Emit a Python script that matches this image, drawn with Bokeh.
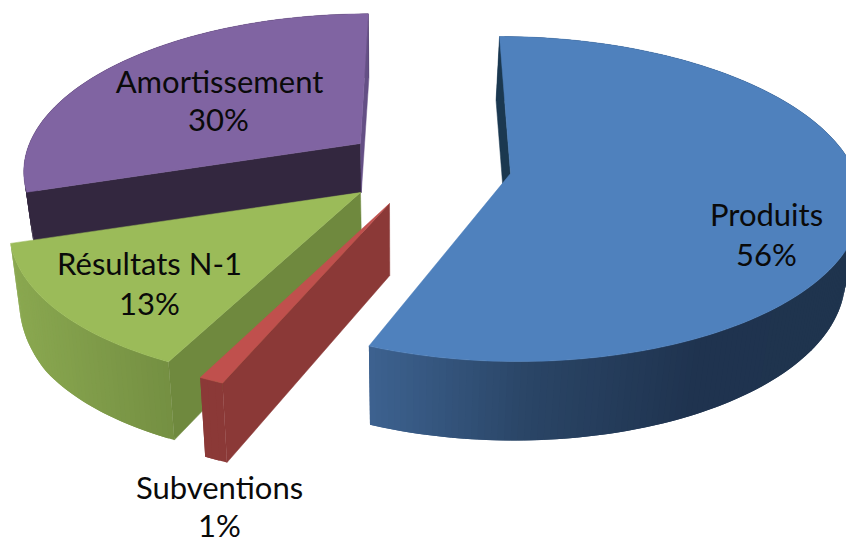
import numpy as np
from bokeh.plotting import figure
from bokeh.models import Range1d
from bokeh.core.properties import value
from bokeh.embed import file_html
from bokeh.resources import INLINE

# ---- data ----
CATEGORIES = ["Produits", "Subventions", "Résultats N-1", "Amortissement"]
VALUES = [56, 1, 13, 30]
PCT_LABELS = ["56%", "1%", "13%", "30%"]

# ---- layout / style (pixels of the image, y down) ----
TOP = ["#4f81bd", "#c0504d", "#9bbb59", "#8064a2"]
APEX = [(510, 173), (389, 203), (360, 192), (360, 143)]
B = [345, 350, 341.5, 331]
C = [158.5, 165, 155, 150]
K = [0.157, 0.157, 0.19, 0.157]
S = [9.5, -14.8, -15, -9]
Q = [-3.2, 0, 0, 0]
SHIFT = [0.035, 0.025, 0.025, 0.02]
H_V = [[-1, 0, .25, 1], [0, 1], [0, .31, .57, 1], [-1, 0, .31]]
H_H = [[64, 62, 76, 79], [72, 80], [54, 72, 79, 78], [64, 49, 52]]
WALL_X = [[368, 530, 700, 846], [199, 390], [10, 170], [20, 370]]
WALL_C = [[(61, 98, 144), (42, 69, 102), (31, 51, 79), (31, 52, 78)],
          [(139, 57, 55), (139, 57, 55)],
          [(138, 168, 80), (116, 143, 66)],
          [(51, 39, 63), (51, 39, 63)]]
SIDE_START = ["#1b3850", "#8b3937", "#6f893e", "#33273f"]
SIDE_END = [None, None, None, "#644f85"]
VX = 400

p = figure(width=846, height=543, output_backend="svg", toolbar_location=None,
           x_range=Range1d(0, 846), y_range=Range1d(543, 0),
           min_border=0, outline_line_color=None, background_fill_color="white",
           border_fill_color="white")
p.axis.visible = False
p.grid.visible = False


def top_pt(i, th):
    u, v = np.sin(th), -np.cos(th)
    w = 1 - K[i] * v
    return (APEX[i][0] + (B[i] * u + S[i] * v + Q[i] * v * v) / w,
            APEX[i][1] + C[i] * v / w, v)


def bot_pt(i, x, y, v):
    return x - (x - VX) * SHIFT[i], y + np.interp(v, H_V[i], H_H[i])


def poly(xs, ys, col):
    p.patch(list(xs), list(ys), fill_color=col, line_color=col, line_width=0.5)


def radial(i, x, y, bx, by, k, col):
    ax, ay = APEX[i]
    abx, aby = bot_pt(i, ax, ay, 0.0)
    poly([x[k], ax, abx, bx[k]], [y[k], ay, aby, by[k]], col)


def slice_draw(i, t0, t1):
    n = max(int((t1 - t0) * 60), 4)
    th = np.linspace(t0, t1, n)
    x, y, v = top_pt(i, th)
    bx, by = bot_pt(i, x, y, v)
    # outer wall: bands overlapping the next one
    for j in range(n - 1):
        e = min(j + 2, n - 1)
        xm = (x[j] + x[j + 1]) / 2
        rgb = [np.interp(xm, WALL_X[i], [c[m] for c in WALL_C[i]]) for m in range(3)]
        col = "#%02x%02x%02x" % tuple(int(round(c)) for c in rgb)
        p.patch([x[j], x[e], bx[e], bx[j]], [y[j], y[e], by[e], by[j]],
                fill_color=col, line_color=None)
    radial(i, x, y, bx, by, 0, SIDE_START[i])
    if SIDE_END[i]:
        radial(i, x, y, bx, by, -1, SIDE_END[i])
    poly(list(x) + [APEX[i][0]], list(y) + [APEX[i][1]], TOP[i])


angles = np.cumsum([0] + VALUES) / sum(VALUES) * 2 * np.pi
for i in [3, 2, 1, 0]:
    slice_draw(i, angles[i], angles[i + 1])

# labels
NAME_X = [766, 219, 149, 219]
NAME_Y = [213, 486, 262, 80]
PCT_X = [766, 219, 149, 218]
PCT_Y = [253, 524, 302, 118]
FONT = value("Lato")
p.text(NAME_X, NAME_Y, text=CATEGORIES, text_font=FONT, text_font_size="31px",
       text_align="center", text_baseline="middle", text_color="#0a0a0a")
p.text(PCT_X, PCT_Y, text=PCT_LABELS, text_font=FONT, text_font_size="31px",
       text_align="center", text_baseline="middle", text_color="#0a0a0a")

open("out.html", "w").write(file_html(p, INLINE))
